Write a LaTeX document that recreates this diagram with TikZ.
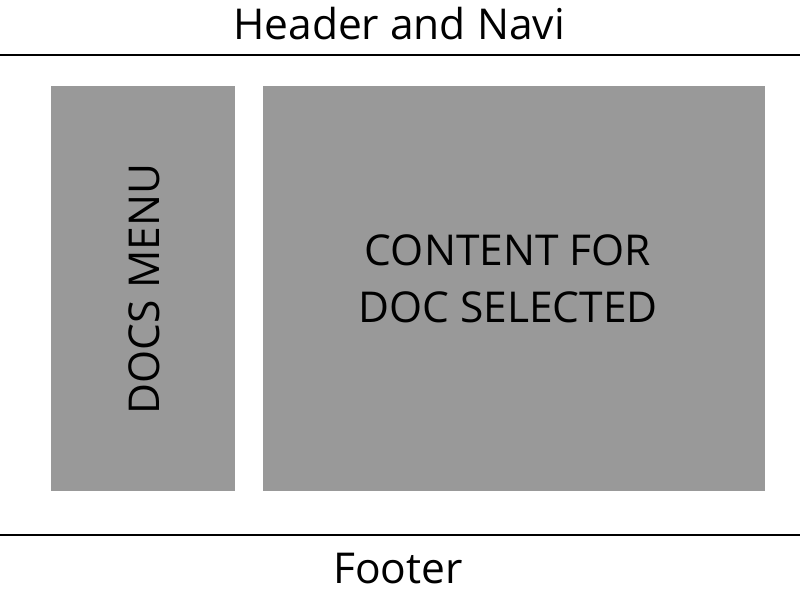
\documentclass[tikz,border=0pt]{standalone}
\usepackage{fontspec}
\setmainfont{Open Sans}
\begin{document}
\begin{tikzpicture}[x=1pt,y=-1pt,
  panel/.style={fill=black!40, draw=none},
  rule/.style={draw=black, line width=1.2pt},
  lbl/.style={inner sep=0pt, align=center, text=black},
  big/.style={font=\fontsize{42.5}{57}\selectfont}]
\useasboundingbox (0,0) rectangle (800,600);
\fill[white] (0,0) rectangle (800,600);
\node[lbl, big] (header) at (399,24) {Header and Navi};
\coordinate (tl) at (0,55);
\coordinate (tr) at (800,55);
\draw[rule] (tl) -- (tr);
\node[panel, minimum width=184, minimum height=405, inner sep=0pt] (menu) at (143,288.5) {};
\node[panel, minimum width=502, minimum height=405, inner sep=0pt] (content) at (514,288.5) {};
\node[lbl, rotate=90, big] (menutext) at (144,289) {DOCS MENU};
\node[lbl, big] (contenttext) at (508,279) {CONTENT FOR\\DOC SELECTED};
\coordinate (bl) at (0,535);
\coordinate (br) at (800,535);
\draw[rule] (bl) -- (br);
\node[lbl, big] (footer) at (398,569) {Footer};
\end{tikzpicture}
\end{document}
